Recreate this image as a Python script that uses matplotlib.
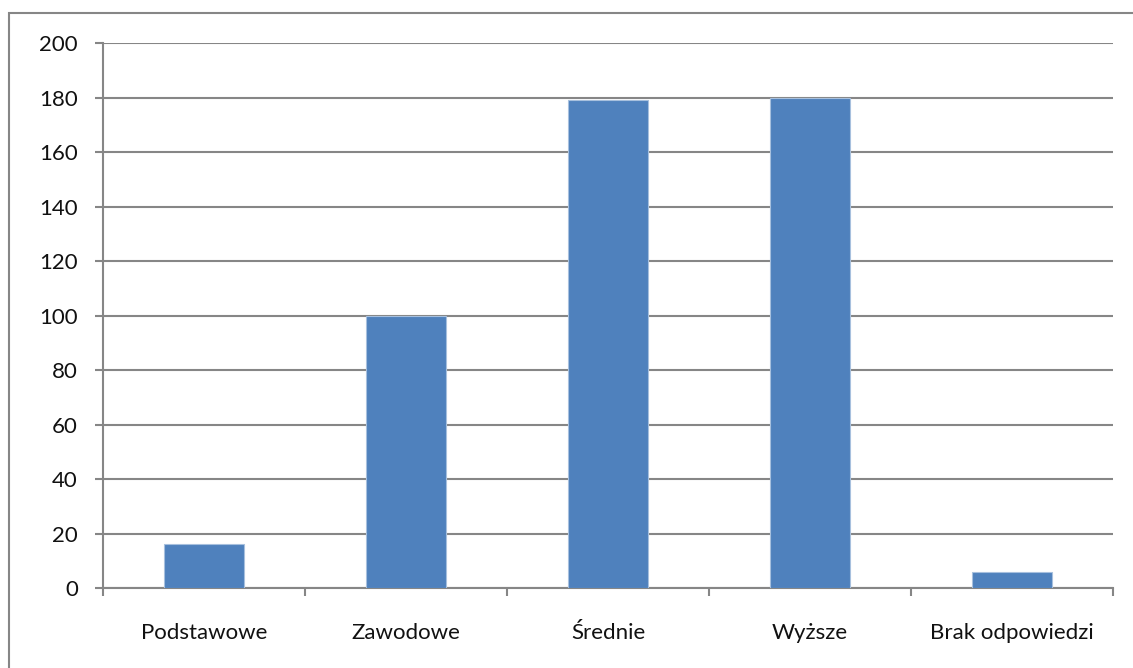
import matplotlib.pyplot as plt
from matplotlib.patches import Rectangle

# Wykształcenie respondentów
kategorie = ['Podstawowe', 'Zawodowe', 'Średnie', 'Wyższe', 'Brak odpowiedzi']
liczba = [16, 100, 179, 180, 6]
y_ticks = list(range(0, 201, 20))

plt.rcParams['font.family'] = ['Lato', 'DejaVu Sans']

W, H = 1133, 668
fig = plt.figure(figsize=(W / 100, H / 100), dpi=100)
ax = fig.add_axes([103 / W, 1 - 588 / H, (1113 - 103) / W, (588 - 43) / H])

szary = '#868686'
ax.bar(range(len(kategorie)), liczba, width=0.4, color='#4F81BD',
       edgecolor='#A7C0DE', linewidth=0.8, zorder=3)

ax.set_xlim(-0.5, len(kategorie) - 0.5)
ax.set_ylim(0, 200)
ax.set_yticks(y_ticks)
ax.yaxis.grid(True, color=szary, linewidth=1.5, zorder=0)

ax.set_xticks(range(len(kategorie)))
ax.set_xticklabels(kategorie)
ax.set_xticks([i - 0.5 for i in range(len(kategorie) + 1)], minor=True)
ax.tick_params(axis='x', which='major', length=0, pad=25, labelsize=16, labelcolor='#111111')
ax.tick_params(axis='x', which='minor', length=6, width=1.5, color=szary, direction='out')
ax.tick_params(axis='y', length=6, width=1.5, color=szary, pad=12, labelsize=16, labelcolor='#111111')

for s in ['top', 'right']:
    ax.spines[s].set_visible(False)
for s in ['left', 'bottom']:
    ax.spines[s].set_color(szary)
    ax.spines[s].set_linewidth(1.5)

# ramka wykresu
fig.patches.append(Rectangle((9 / W, -0.1), 1.2, 1 - 13 / H + 0.1,
                             transform=fig.transFigure, fill=False,
                             edgecolor=szary, linewidth=1.5))

fig.savefig('out.png', dpi=100)
